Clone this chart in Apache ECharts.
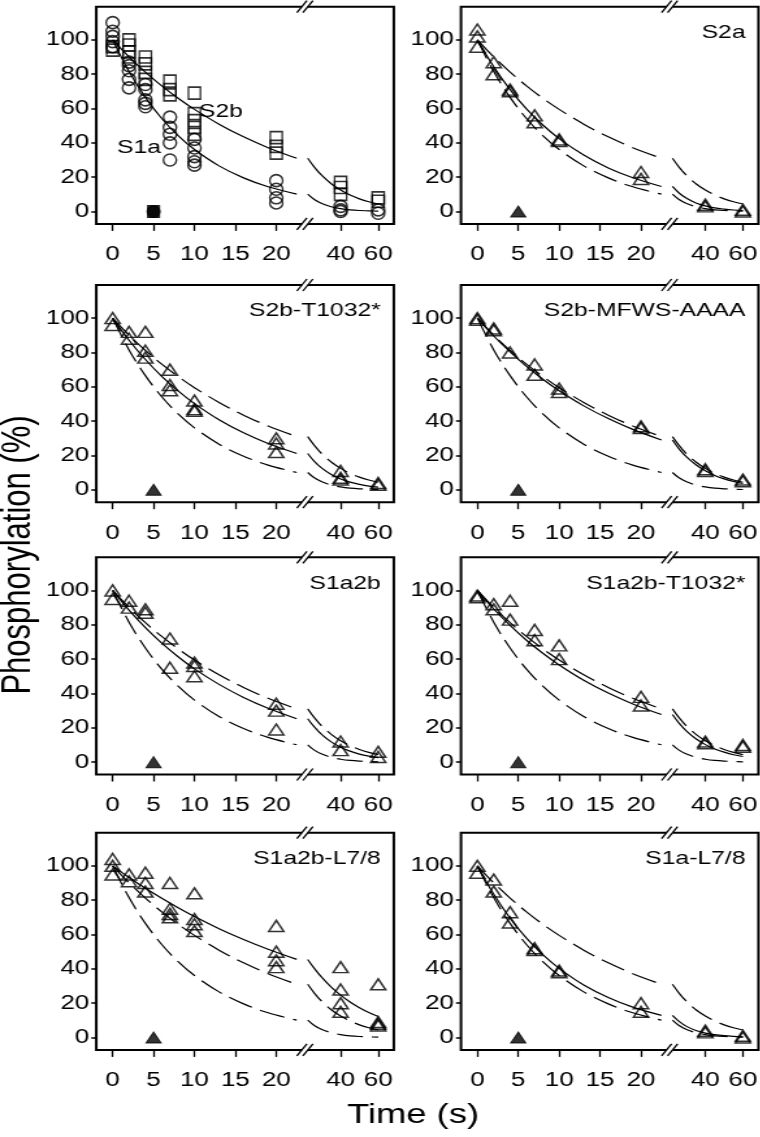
<!DOCTYPE html>
<html><head><meta charset="utf-8">
<script src="https://cdn.jsdelivr.net/npm/echarts@6/dist/echarts.min.js"></script>
<style>html,body{margin:0;padding:0;background:#fff;overflow:hidden}
#wrap{width:760px;height:1137px;overflow:hidden;background:#fff}
#c{height:1137px;transform-origin:0 0}</style>
</head><body><div id="wrap"><div id="c"></div></div>
<script>
// ---------------- DATA ----------------
const X_TICKS_A = [0, 5, 10, 15, 20];
const X_TICKS_B = [40, 60];
const Y_TICKS = [0, 20, 40, 60, 80, 100];
const PANEL_TITLES = ['', 'S2a', 'S2b-T1032*', 'S2b-MFWS-AAAA', 'S1a2b', 'S1a2b-T1032*', 'S1a2b-L7/8', 'S1a-L7/8'];

// fitted curves, sampled at CURVE_T
const CURVE_T = [0, 2, 4, 6, 8, 10, 13, 16, 19, 22.5, 26, 30, 35, 40, 45, 50, 55, 60];
const fitS1a = [100, 81.5, 66.5, 54.2, 44.2, 36.1, 26.6, 19.6, 14.4, 10.1, 7.0, 4.7, 2.8, 1.7, 1.0, 0.6, 0.4, 0.2];
const fitS2b = [100, 90.1, 81.2, 73.2, 66.0, 59.5, 50.9, 43.5, 37.2, 31.0, 25.9, 21.0, 16.2, 12.5, 9.6, 7.4, 5.7, 4.4];
const fitS2a = [100, 84.3, 71.0, 59.8, 50.4, 42.5, 32.9, 25.4, 19.7, 14.6, 10.8, 7.7, 5.0, 3.3, 2.1, 1.4, 0.9, 0.6];
const fitS2bT = [100, 87.1, 75.9, 66.1, 57.6, 50.2, 40.8, 33.2, 27.0, 21.2, 16.6, 12.6, 8.9, 6.3, 4.5, 3.2, 2.2, 1.6];
const fitS2bM = [100, 89.6, 80.3, 71.9, 64.4, 57.7, 48.9, 41.5, 35.2, 29.0, 23.9, 19.2, 14.6, 11.1, 8.4, 6.4, 4.9, 3.7];
const fitS1a2b = [100, 88.5, 78.3, 69.3, 61.4, 54.3, 45.3, 37.7, 31.4, 25.3, 20.5, 16.0, 11.8, 8.7, 6.4, 4.7, 3.5, 2.6];
const fitS1a2bT = [100, 89.2, 79.6, 71.0, 63.4, 56.6, 47.7, 40.2, 33.9, 27.7, 22.7, 18.1, 13.6, 10.2, 7.7, 5.8, 4.3, 3.3];
const fitS1a2bL = [100, 93.2, 86.9, 81.1, 75.6, 70.5, 63.4, 57.1, 51.4, 45.5, 40.3, 35.0, 29.4, 24.7, 20.7, 17.4, 14.6, 12.2];
const fitS1aL = [100, 83.4, 69.5, 57.9, 48.3, 40.3, 30.6, 23.3, 17.7, 12.9, 9.4, 6.5, 4.1, 2.6, 1.7, 1.1, 0.7, 0.4];

// measured points [time, %]
const ptsS1a = [[0,110],[0,105],[0,102],[0,99],[0,96],[2,87],[2,85],[2,82],[2,77],[2,72],[4,74],[4,71],[4,65],[4,63],[4,61],
  [7,55],[7,49],[7,45],[7,40],[7,30],[10,42],[10,37],[10,32],[10,29],[10,27],[20,18],[20,13],[20,8],[20,5],[40,3],[40,1],[40,0],[60,1],[60,-1]];
const ptsS2b = [[0,96],[0,94],[2,100],[2,97],[2,93],[2,90],[4,90],[4,86],[4,81],[4,77],[7,76],[7,71],[7,68],
  [10,69],[10,57],[10,53],[10,49],[10,45],[20,43],[20,38],[20,34],[40,17],[40,14],[40,10],[60,8],[60,6]];
const ptsS2a = [[0,106],[0,102],[0,96],[2,87],[2,80],[4,71],[4,70],[7,56],[7,52],[10,42],[10,41],[20,23],[20,19],[40,4],[40,3],[60,0],[60,1]];
const ptsS2bT = [[0,100],[0,96],[2,92],[2,88],[4,92],[4,81],[4,77],[7,70],[7,61],[7,58],[10,52],[10,47],[10,46],[20,30],[20,27],[20,22],[40,11],[40,7],[40,6],[60,4],[60,3]];
const ptsS2bM = [[0,100],[0,99],[2,94],[2,93],[4,80],[7,73],[7,67],[10,59],[10,57],[20,37],[20,36],[40,12],[40,11],[60,6],[60,5]];
const ptsS1a2b = [[0,100],[0,95],[2,94],[2,90],[4,89],[4,87],[7,72],[7,55],[10,58],[10,56],[10,50],[20,34],[20,30],[20,19],[40,12],[40,7],[60,6],[60,3]];
const ptsS1a2bT = [[0,97],[0,96],[2,92],[2,89],[4,94],[4,83],[7,77],[7,71],[10,68],[10,60],[20,38],[20,33],[40,12],[40,11],[60,10],[60,9]];
const ptsS1a2bL = [[0,104],[0,100],[0,95],[2,95],[2,91],[4,96],[4,90],[4,85],[7,90],[7,75],[7,72],[7,70],[10,84],[10,69],[10,66],[10,62],
  [20,65],[20,50],[20,45],[20,41],[40,41],[40,28],[40,20],[40,15],[60,31],[60,9],[60,8],[60,7]];
const ptsS1aL = [[0,100],[0,96],[2,92],[2,85],[4,73],[4,67],[7,52],[7,51],[10,39],[10,38],[20,20],[20,15],[40,4],[40,3],[60,1],[60,0]];
const ptsControl = [[5, 0]];

// ---------------- LAYOUT / STYLE ----------------
// the reference is horizontally stretched; draw narrower and stretch the same way
const SX = 1.3;
const X = v => v / SX;
document.getElementById('c').style.width = (760 / SX) + 'px';
document.getElementById('c').style.transform = 'scaleX(' + SX + ')';

const FONT = 'Liberation Sans, Arial, Helvetica, sans-serif';
const TICK_FS = 20, TITLE_FS = 19, XT_FS = 28, YT_FS = 31;
const COL_LEFT = [96.3, 461];
const SEG1_W = 208.6, BOX_W = 297.5;
const ROW_TOP = [6.7, 285, 557.3, 832.7];
const BOX_H = 217.2;
const X_A = [-2, 23.5], X_B = [21, 68.3], Y_R = [-7.2, 119.3];
const BREAK_T = 22.5;
const DASH = [20, 7];

const panels = [
  { solid: [fitS1a, fitS2b], dashed: [], pts: [[ptsS1a, 'circle'], [ptsS2b, 'rect']], ctrl: ['rect', 'circle'] },
  { solid: [fitS2a], dashed: [fitS1a, fitS2b], pts: [[ptsS2a, 'triangle']], ctrl: ['triangle'] },
  { solid: [fitS2bT], dashed: [fitS1a, fitS2b], pts: [[ptsS2bT, 'triangle']], ctrl: ['triangle'] },
  { solid: [fitS2bM], dashed: [fitS1a, fitS2b], pts: [[ptsS2bM, 'triangle']], ctrl: ['triangle'] },
  { solid: [fitS1a2b], dashed: [fitS1a, fitS2b], pts: [[ptsS1a2b, 'triangle']], ctrl: ['triangle'] },
  { solid: [fitS1a2bT], dashed: [fitS1a, fitS2b], pts: [[ptsS1a2bT, 'triangle']], ctrl: ['triangle'] },
  { solid: [fitS1a2bL], dashed: [fitS1a, fitS2b], pts: [[ptsS1a2bL, 'triangle']], ctrl: ['triangle'] },
  { solid: [fitS1aL], dashed: [fitS1a, fitS2b], pts: [[ptsS1aL, 'triangle']], ctrl: ['triangle'] }
];
const SYM_SIZE = { circle: [X(13), 12], rect: [X(12), 12], triangle: [X(15), 11] };

const grid = [], xAxis = [], yAxis = [], series = [], graphic = [];
function curveData(vals, seg) {
  const out = [];
  CURVE_T.forEach((t, i) => {
    if (seg === 0 ? t <= BREAK_T : t >= BREAK_T) out.push([t, vals[i]]);
  });
  return out;
}
function ptsData(pts, seg) {
  return pts.filter(p => seg === 0 ? p[0] <= X_A[1] : p[0] >= X_B[0]);
}
const lblStyle = { fontSize: TICK_FS, fontFamily: FONT, color: '#000' };

panels.forEach((pd, p) => {
  const col = p % 2, row = Math.floor(p / 2);
  const left = COL_LEFT[col], top = ROW_TOP[row];
  const gA = grid.length;
  grid.push({ left: X(left), top: top, width: X(SEG1_W), height: BOX_H, containLabel: false, outerBoundsMode: 'none' });
  grid.push({ left: X(left + SEG1_W), top: top, width: X(BOX_W - SEG1_W), height: BOX_H, containLabel: false, outerBoundsMode: 'none' });
  [0, 1].forEach(seg => {
    const rng = seg === 0 ? X_A : X_B;
    const ticks = seg === 0 ? X_TICKS_A : X_TICKS_B;
    xAxis.push({ gridIndex: gA + seg, type: 'value', position: 'bottom', min: rng[0], max: rng[1],
      axisLine: { show: false, onZero: false },
      axisTick: { show: true, inside: false, length: 7, customValues: ticks, lineStyle: { color: '#000', width: 1.3 } },
      axisLabel: { show: true, customValues: ticks, margin: 21, ...lblStyle },
      splitLine: { show: false } });
    yAxis.push({ gridIndex: gA + seg, type: 'value', position: 'left', min: Y_R[0], max: Y_R[1], show: seg === 0,
      axisLine: { show: false, onZero: false },
      axisTick: { show: true, inside: false, length: X(5), customValues: Y_TICKS, lineStyle: { color: '#000', width: 1.5 } },
      axisLabel: { show: true, customValues: Y_TICKS, margin: X(7), ...lblStyle },
      splitLine: { show: false } });
    const ax = gA + seg;
    pd.dashed.forEach(c => series.push({ type: 'line', xAxisIndex: ax, yAxisIndex: ax, data: curveData(c, seg),
      showSymbol: false, symbol: 'none', smooth: 0.35, silent: true, z: 2,
      lineStyle: { color: '#000', width: 1.2, type: DASH } }));
    pd.solid.forEach(c => series.push({ type: 'line', xAxisIndex: ax, yAxisIndex: ax, data: curveData(c, seg),
      showSymbol: false, symbol: 'none', smooth: 0.35, silent: true, z: 2,
      lineStyle: { color: '#000', width: 1.2 } }));
    pd.pts.forEach(([pts, sym]) => series.push({ type: 'scatter', xAxisIndex: ax, yAxisIndex: ax, data: ptsData(pts, seg),
      symbol: sym, symbolSize: SYM_SIZE[sym], silent: true, z: 3,
      itemStyle: { color: 'rgba(0,0,0,0)', borderColor: '#000', borderWidth: 1.5 } }));
    if (seg === 0) pd.ctrl.forEach(sym => series.push({ type: 'scatter', xAxisIndex: ax, yAxisIndex: ax, data: ptsControl,
      symbol: sym, symbolSize: SYM_SIZE[sym], silent: true, z: 4,
      itemStyle: { color: '#000', borderColor: '#000', borderWidth: 1 } }));
  });
  // frame
  graphic.push({ type: 'rect', z: 100, silent: true, shape: { x: X(left), y: top, width: X(BOX_W), height: BOX_H },
    style: { fill: 'none', stroke: '#000', lineWidth: 2 } });
  // break marks
  const bx = left + SEG1_W;
  [top, top + BOX_H].forEach(yy => {
    graphic.push({ type: 'rect', z: 101, silent: true, shape: { x: X(bx - 3), y: yy - 3, width: X(6), height: 6 }, style: { fill: '#fff' } });
    [-3, 3].forEach(dx => graphic.push({ type: 'line', z: 102, silent: true,
      shape: { x1: X(bx + dx - 5), y1: yy + 6, x2: X(bx + dx + 5), y2: yy - 6 }, style: { stroke: '#000', lineWidth: 1.3 } }));
  });
  if (PANEL_TITLES[p]) graphic.push({ type: 'text', z: 103, silent: true,
    style: { text: PANEL_TITLES[p], x: X(left + BOX_W - 13), y: top + 26, textAlign: 'right', textVerticalAlign: 'middle',
      fontSize: TITLE_FS, fontFamily: FONT, fill: '#000' } });
});
// annotations in the first panel
graphic.push({ type: 'text', z: 103, silent: true, style: { text: 'S2b', x: X(199), y: 112, textAlign: 'left', textVerticalAlign: 'middle', fontSize: TITLE_FS, fontFamily: FONT, fill: '#000' } });
graphic.push({ type: 'text', z: 103, silent: true, style: { text: 'S1a', x: X(117), y: 148, textAlign: 'left', textVerticalAlign: 'middle', fontSize: TITLE_FS, fontFamily: FONT, fill: '#000' } });
// axis titles
graphic.push({ type: 'text', z: 103, silent: true, style: { text: 'Time (s)', x: X(413), y: 1115, textAlign: 'center', textVerticalAlign: 'middle', fontSize: XT_FS, fontFamily: FONT, fill: '#000' } });
graphic.push({ type: 'text', z: 103, silent: true, x: X(19), y: 555, rotation: Math.PI / 2,
  style: { text: 'Phosphorylation (%)', x: 0, y: 0, textAlign: 'center', textVerticalAlign: 'middle', fontSize: YT_FS, fontFamily: FONT, fill: '#000' } });

const chart = echarts.init(document.getElementById('c'), null, { renderer: 'canvas' });
chart.setOption({ animation: false, backgroundColor: '#fff', grid, xAxis, yAxis, series, graphic });
</script></body></html>
